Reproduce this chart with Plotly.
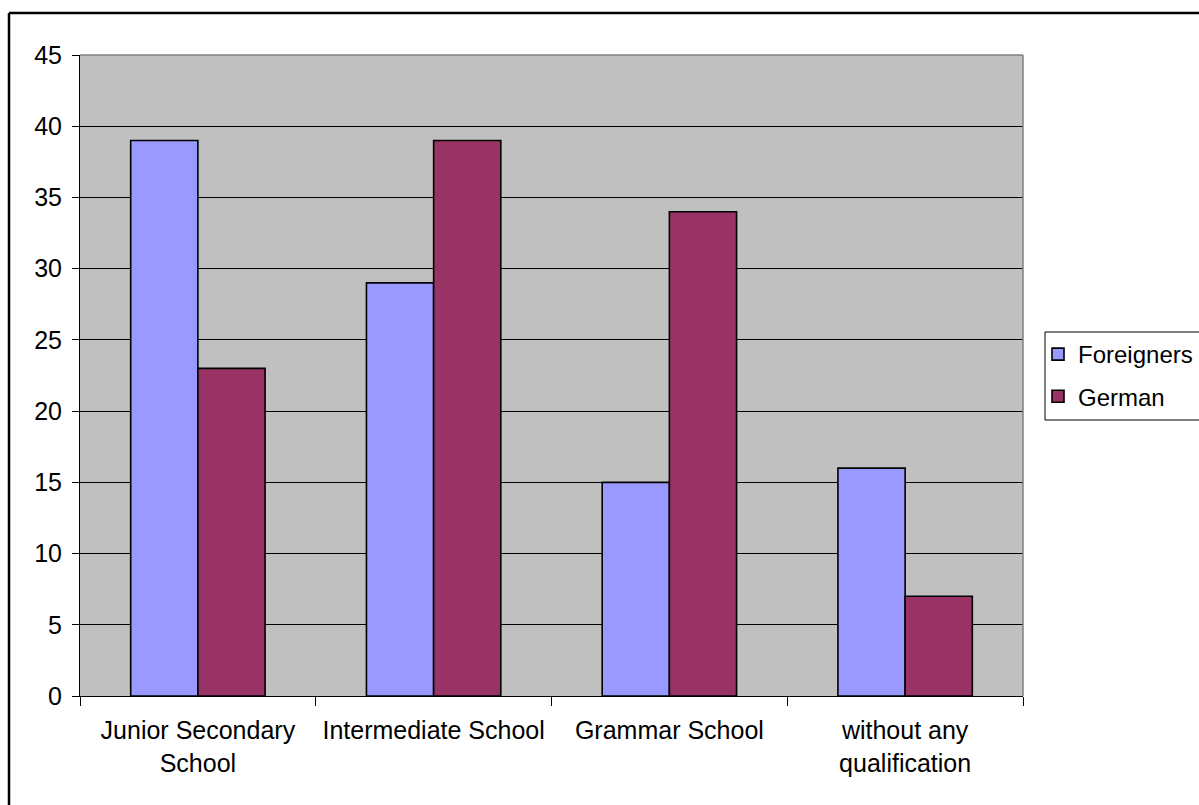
import plotly.graph_objects as go

# Chart data
categories = ["Junior Secondary<br>School", "Intermediate School", "Grammar School", "without any<br>qualification"]
foreigners = [39, 29, 15, 16]
german = [23, 39, 34, 7]
y_ticks = [0, 5, 10, 15, 20, 25, 30, 35, 40, 45]

# Page and plot-area geometry (pixels)
W, H = 1199, 805
L, R, T, B = 80, 1023, 55, 696


def px_x(px):
    return (px - L) / (R - L)


def px_y(py):
    return (B - py) / (B - T)


FONT = "Liberation Sans, Arial, sans-serif"

fig = go.Figure()
fig.add_trace(go.Bar(
    name="Foreigners", x=categories, y=foreigners, legendgroup="f",
    marker=dict(color="#9999FF", line=dict(color="black", width=1.6)),
))
fig.add_trace(go.Bar(
    name="German", x=categories, y=german, legendgroup="g",
    marker=dict(color="#993366", line=dict(color="black", width=1.6)),
))

fig.update_layout(
    width=W, height=H,
    margin=dict(l=L, r=W - R, t=T, b=H - B, autoexpand=False),
    paper_bgcolor="white",
    plot_bgcolor="#C0C0C0",
    barmode="group",
    bargap=0.43,
    bargroupgap=0,
    font=dict(family=FONT, size=25, color="black"),
    showlegend=True,
    legend=dict(
        x=px_x(1038), y=px_y(332), xanchor="left", yanchor="top",
        borderwidth=0, bgcolor="rgba(0,0,0,0)",
        font=dict(family=FONT, size=24, color="black"),
        traceorder="grouped", tracegroupgap=8,
    ),
    xaxis=dict(
        type="category", tickson="boundaries",
        ticks="outside", ticklen=9, tickcolor="black", tickwidth=1,
        showline=True, linecolor="black", linewidth=1,
        showgrid=False, tickfont=dict(size=25), ticklabelstandoff=12,
    ),
    yaxis=dict(
        range=[0, 45], tickvals=y_ticks,
        ticks="outside", ticklen=7, tickcolor="black", tickwidth=1,
        showline=True, linecolor="black", linewidth=1,
        showgrid=True, gridcolor="black", gridwidth=1,
        zeroline=False, tickfont=dict(size=25), ticklabelstandoff=5,
    ),
    shapes=[
        # plot-area border (top and right)
        dict(type="line", xref="paper", yref="paper", x0=0, x1=1, y0=1, y1=1,
             line=dict(color="#808080", width=1.5)),
        dict(type="line", xref="paper", yref="paper", x0=1, x1=1, y0=0, y1=1,
             line=dict(color="#808080", width=1.5)),
        # legend frame
        dict(type="rect", xref="paper", yref="paper",
             x0=px_x(1045), x1=px_x(W + 10), y0=px_y(332), y1=px_y(420),
             fillcolor="white", line=dict(color="black", width=1)),
        # outer chart frame
        dict(type="line", xref="paper", yref="paper",
             x0=px_x(9), x1=px_x(W + 5), y0=px_y(13), y1=px_y(13),
             line=dict(color="black", width=2.5)),
        dict(type="line", xref="paper", yref="paper",
             x0=px_x(9), x1=px_x(9), y0=px_y(13), y1=px_y(H + 5),
             line=dict(color="black", width=2.5)),
    ],
)

fig.write_html("out.html")
